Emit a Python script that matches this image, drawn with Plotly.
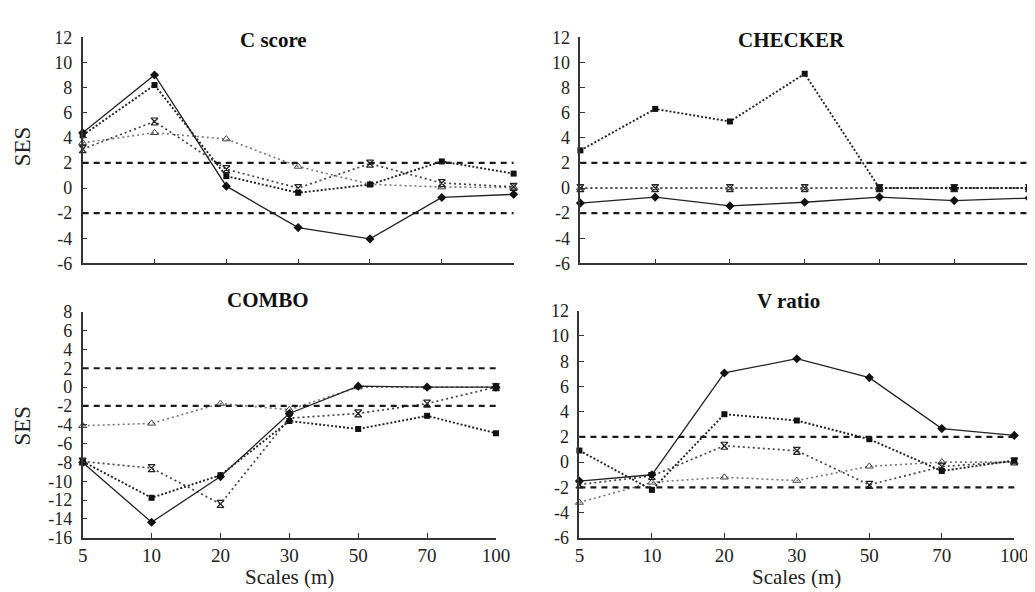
import plotly.graph_objects as go

SCALES = ["5", "10", "20", "30", "50", "70", "100"]
THRESHOLDS = [2, -2]

PANELS = ["C score", "CHECKER", "COMBO", "V ratio"]

# series values per panel (SES)
CSCORE_DIAMOND = [4.4, 9.0, 0.15, -3.15, -4.05, -0.75, -0.5]
CSCORE_SQUARE = [4.2, 8.2, 0.95, -0.38, 0.28, 2.12, 1.15]
CSCORE_X = [3.1, 5.3, 1.5, 0.0, 1.95, 0.4, 0.1]
CSCORE_TRI = [3.6, 4.4, 3.9, 1.72, 0.3, 0.08, 0.05]

CHECKER_DIAMOND = [-1.2, -0.72, -1.42, -1.13, -0.72, -1.0, -0.8]
CHECKER_SQUARE = [3.0, 6.3, 5.3, 9.1, 0.0, 0.0, 0.0]
CHECKER_X = [0.0, 0.0, 0.0, 0.0, 0.0, 0.0, 0.0]
CHECKER_TRI = [0.0, 0.0, 0.0, 0.0, 0.0, 0.0, 0.0]

COMBO_DIAMOND = [-8.0, -14.35, -9.5, -2.8, 0.1, 0.0, 0.0]
COMBO_SQUARE = [-7.9, -11.75, -9.35, -3.6, -4.45, -3.05, -4.9]
COMBO_X = [-7.9, -8.6, -12.4, -3.3, -2.8, -1.75, 0.0]
COMBO_TRI = [-4.1, -3.85, -1.75, -2.4, 0.0, 0.0, 0.0]

VRATIO_DIAMOND = [-1.5, -1.0, 7.07, 8.2, 6.7, 2.66, 2.12]
VRATIO_SQUARE = [0.92, -2.2, 3.8, 3.3, 1.82, -0.7, 0.13]
VRATIO_X = [-1.77, -1.1, 1.3, 0.9, -1.8, -0.35, 0.05]
VRATIO_TRI = [-3.2, -1.6, -1.2, -1.46, -0.33, 0.0, 0.0]

Y_TICKS_A = [-6, -4, -2, 0, 2, 4, 6, 8, 10, 12]
Y_TICKS_B = [-16, -14, -12, -10, -8, -6, -4, -2, 0, 2, 4, 6, 8]
Y_TICKS = [Y_TICKS_A, Y_TICKS_A, Y_TICKS_B, Y_TICKS_A]

W, H = 1035, 592
# plot-area pixel boxes (left, right, top, bottom)
BOXES = [(71, 510, 20, 254), (578, 1035, 20, 254), (71, 492, 304, 538), (577, 1020, 303, 538)]

panel_data = [
    (CSCORE_DIAMOND, CSCORE_SQUARE, CSCORE_X, CSCORE_TRI),
    (CHECKER_DIAMOND, CHECKER_SQUARE, CHECKER_X, CHECKER_TRI),
    (COMBO_DIAMOND, COMBO_SQUARE, COMBO_X, COMBO_TRI),
    (VRATIO_DIAMOND, VRATIO_SQUARE, VRATIO_X, VRATIO_TRI),
]

SERIF = "Liberation Serif, Times New Roman, serif"
xpos = list(range(len(SCALES)))

fig = go.Figure()
layout = dict(
    width=W, height=H, autosize=False,
    margin=dict(l=0, r=0, t=0, b=0),
    paper_bgcolor="white", plot_bgcolor="white",
    showlegend=False,
    font=dict(family=SERIF, color="#222"),
)
shapes = []
annotations = []

for i, (dia, sq, xs, tri) in enumerate(panel_data):
    n = "" if i == 0 else str(i + 1)
    xa, ya = "x" + n, "y" + n
    l, r, t, b = BOXES[i]
    bottom = i >= 2
    yt = Y_TICKS[i]
    layout["xaxis" + n] = dict(
        domain=[l / W, r / W], anchor=ya, range=[0, 6],
        tickvals=xpos, ticktext=SCALES, showticklabels=bottom,
        ticks="inside", ticklen=5, tickcolor="#333", tickwidth=1.3,
        showline=True, linecolor="#333", linewidth=1.6,
        showgrid=False, zeroline=False,
        tickfont=dict(family=SERIF, size=19, color="#222"),
    )
    layout["yaxis" + n] = dict(
        domain=[1 - b / H, 1 - t / H], anchor=xa, range=[yt[0], yt[-1]],
        tickvals=yt, ticktext=[str(v) for v in yt],
        ticks="inside", ticklen=5, tickcolor="#333", tickwidth=1.3,
        showline=True, linecolor="#333", linewidth=1.6,
        showgrid=False, zeroline=False, ticklabelstandoff=5,
        tickfont=dict(family=SERIF, size=18, color="#222"),
    )
    for th in THRESHOLDS:
        shapes.append(dict(type="line", xref=xa + " domain", yref=ya,
                           x0=0, x1=1, y0=th, y1=th,
                           line=dict(color="#1a1a1a", width=2.2, dash="6px,5px")))
    fig.add_trace(go.Scatter(x=xpos, y=tri, xaxis=xa, yaxis=ya, mode="lines+markers",
                             line=dict(color="#777", width=1.6, dash="2px,3px"),
                             marker=dict(symbol="triangle-up-open", size=7,
                                         color="#444", line=dict(width=1)),
                             cliponaxis=False))
    fig.add_trace(go.Scatter(x=xpos, y=xs, xaxis=xa, yaxis=ya, mode="lines+markers",
                             line=dict(color="#444", width=1.7, dash="2px,3px"),
                             marker=dict(symbol="hourglass-open", size=7,
                                         color="#222", line=dict(width=1.2)),
                             cliponaxis=False))
    fig.add_trace(go.Scatter(x=xpos, y=sq, xaxis=xa, yaxis=ya, mode="lines+markers",
                             line=dict(color="#222", width=1.9, dash="2px,2px"),
                             marker=dict(symbol="square", size=6, color="#111"),
                             cliponaxis=False))
    fig.add_trace(go.Scatter(x=xpos, y=dia, xaxis=xa, yaxis=ya, mode="lines+markers",
                             line=dict(color="#222", width=1.3),
                             marker=dict(symbol="diamond", size=7, color="#111"),
                             cliponaxis=False))

TITLE_POS = [(265, 23), (793, 23), (260, 292), (790, 293)]
for name, (cx, cy) in zip(PANELS, TITLE_POS):
    annotations.append(dict(text="<b>" + name + "</b>", x=cx / W, y=1 - cy / H,
                            xref="paper", yref="paper", showarrow=False,
                            xanchor="center", yanchor="middle",
                            font=dict(family=SERIF, size=21, color="#111")))
for cy in (133, 422):
    annotations.append(dict(text="SES", x=10 / W, y=1 - cy / H, xref="paper", yref="paper",
                            showarrow=False, textangle=-90, xanchor="center", yanchor="middle",
                            font=dict(family=SERIF, size=23, color="#222")))
for cx in (282, 798):
    annotations.append(dict(text="Scales (m)", x=cx / W, y=0, xref="paper", yref="paper",
                            showarrow=False, xanchor="center", yanchor="bottom", borderpad=0,
                            font=dict(family=SERIF, size=21, color="#222")))

layout["shapes"] = shapes
layout["annotations"] = annotations
fig.update_layout(**layout)
fig.write_html("out.html")
